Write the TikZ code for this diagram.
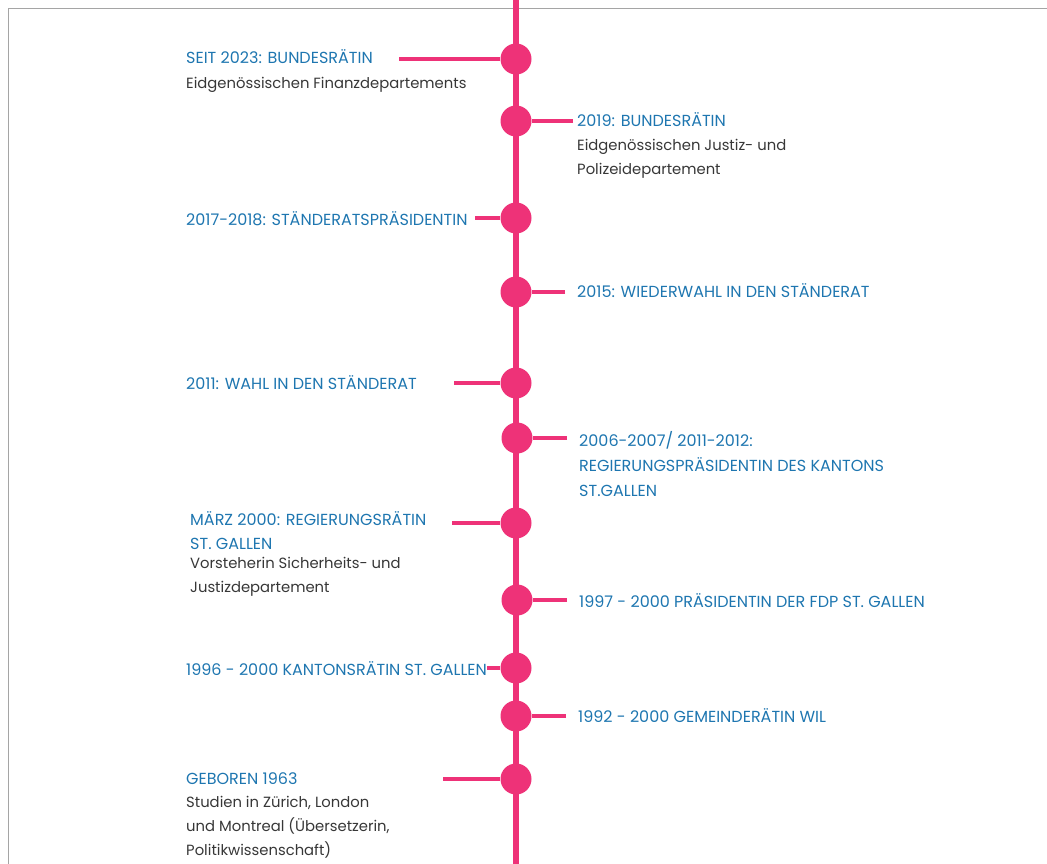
\documentclass[tikz,border=0pt]{standalone}
\usepackage{fontspec}
\setmainfont{Poppins}
\definecolor{pinkc}{RGB}{238,50,120}
\definecolor{bluec}{RGB}{30,118,176}
\definecolor{grayc}{RGB}{55,55,55}
\definecolor{framec}{RGB}{165,165,165}
\begin{document}
\begin{tikzpicture}[x=1pt,y=-1pt,
  dot/.style={circle,fill=pinkc,inner sep=0pt,minimum size=31pt},
  conn/.style={pinkc,line width=3.5pt},
  spine/.style={pinkc,line width=6pt},
  head/.style={anchor=base west,inner sep=0pt,text=bluec,font=\fontsize{16}{18}\selectfont},
  sub/.style={anchor=base west,inner sep=0pt,text=grayc,font=\fontsize{14.8}{17}\selectfont}]
\useasboundingbox (0,0) rectangle (1047,864);
% frame
\draw[framec,line width=1.5pt] (8.5,864) -- (8.5,8.5) -- (1047,8.5);
% spine
\coordinate (top) at (516,0);
\coordinate (bot) at (516,864);
\draw[spine] (top) -- (bot);
% connector ends
\coordinate (c1) at (399,59);
\coordinate (c2) at (573,121);
\coordinate (c3) at (475,218);
\coordinate (c4) at (565,292);
\coordinate (c5) at (454,383);
\coordinate (c6) at (567,438);
\coordinate (c7) at (452,523);
\coordinate (c8) at (567,600);
\coordinate (c9) at (487,668);
\coordinate (c10) at (566,716);
\coordinate (c11) at (443,779);
% dots
\node[dot] (d1) at (516,59) {};
\node[dot] (d2) at (516,121) {};
\node[dot] (d3) at (516,218) {};
\node[dot] (d4) at (516,292) {};
\node[dot] (d5) at (516,383) {};
\node[dot] (d6) at (517,438) {};
\node[dot] (d7) at (516,523) {};
\node[dot] (d8) at (517,600) {};
\node[dot] (d9) at (516,668) {};
\node[dot] (d10) at (516,716) {};
\node[dot] (d11) at (516,779) {};
\foreach \i in {1,...,11} \draw[conn] (c\i) -- (d\i);
% texts
\node[head] (t1) at (186,64) {SEIT 2023: BUNDESRÄTIN};
\node[sub] (s1) at (186,89) {Eidgenössischen Finanzdepartements};
\node[head] (t2) at (577,126.5) {2019: BUNDESRÄTIN};
\node[sub] (s2a) at (577,151) {Eidgenössischen Justiz- und};
\node[sub] (s2b) at (577,175) {Polizeidepartement};
\node[head] (t3) at (186,225.5) {2017-2018: STÄNDERATSPRÄSIDENTIN};
\node[head] (t4) at (577,297) {2015: WIEDERWAHL IN DEN STÄNDERAT};
\node[head] (t5) at (186,389) {2011: WAHL IN DEN STÄNDERAT};
\node[head] (t6a) at (579,446.5) {2006-2007/ 2011-2012:};
\node[head] (t6b) at (579,471.5) {REGIERUNGSPRÄSIDENTIN DES KANTONS};
\node[head] (t6c) at (579,496) {ST.GALLEN};
\node[head] (t7a) at (190,525) {MÄRZ 2000: REGIERUNGSRÄTIN};
\node[head] (t7b) at (190,549) {ST. GALLEN};
\node[sub] (s7a) at (190,568.5) {Vorsteherin Sicherheits- und};
\node[sub] (s7b) at (190,592.5) {Justizdepartement};
\node[head] (t8) at (579,607) {1997 - 2000 PRÄSIDENTIN DER FDP ST. GALLEN};
\node[head] (t9) at (186,675) {1996 - 2000 KANTONSRÄTIN ST. GALLEN};
\node[head] (t10) at (578,722) {1992 - 2000 GEMEINDERÄTIN WIL};
\node[head] (t11) at (186,784) {GEBOREN 1963};
\node[sub] (s11a) at (186,807.5) {Studien in Zürich, London};
\node[sub] (s11b) at (186,831.5) {und Montreal (Übersetzerin,};
\node[sub] (s11c) at (186,855.5) {Politikwissenschaft)};
\end{tikzpicture}
\end{document}
